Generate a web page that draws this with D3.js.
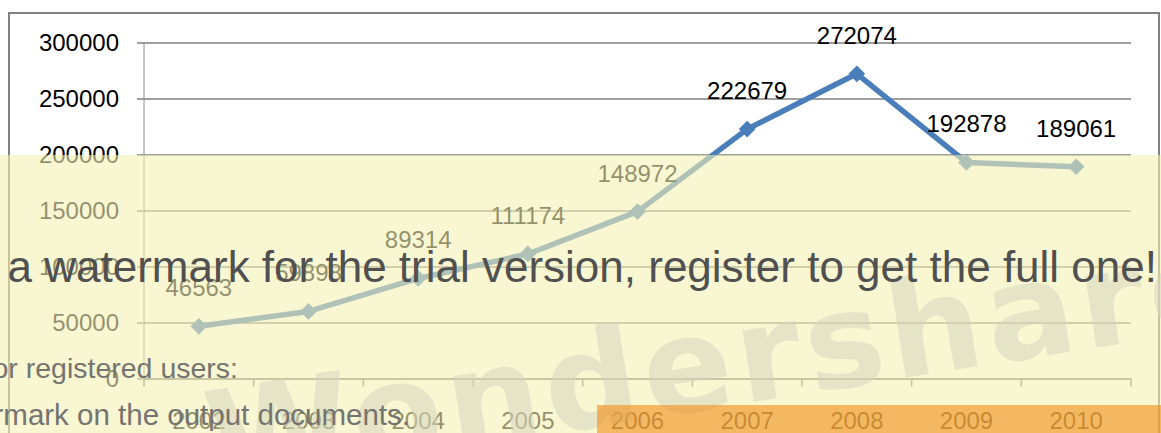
<!DOCTYPE html>
<html>
<head>
<meta charset="utf-8">
<script src="https://d3js.org/d3.v7.min.js"></script>
<style>
  body { margin: 0; background: #fff; }
  svg { display: block; }
</style>
</head>
<body>
<script>
var w = 1161;
var h = 433;

var years = ["2002", "2003", "2004", "2005", "2006", "2007", "2008", "2009", "2010"];
var values = [46563, 59898, 89314, 111174, 148972, 222679, 272074, 192878, 189061];
var yTicks = [0, 50000, 100000, 150000, 200000, 250000, 300000];

var plotLeft = 144, plotRight = 1131, plotTop = 42.5, plotBottom = 378.5;
var labelFont = "'Liberation Sans', Arial, sans-serif";

var xScale = d3.scaleBand()
  .domain(years)
  .range([plotLeft, plotRight]);

var yScale = d3.scaleLinear()
  .domain([0, 300000])
  .range([plotBottom, plotTop]);

var svg = d3.select("body")
  .append("svg")
  .attr("width", w)
  .attr("height", h);

// outer chart border
svg.append("rect")
  .attr("x", 9).attr("y", 13)
  .attr("width", 1150).attr("height", 440)
  .attr("fill", "none")
  .attr("stroke", "#808080")
  .attr("stroke-width", 2);

// gridlines + y labels
var yAxis = d3.axisLeft(yScale)
  .tickValues(yTicks)
  .tickSize(-(plotRight - plotLeft) - 7)
  .tickPadding(18)
  .tickFormat(d3.format("d"));

var gy = svg.append("g")
  .attr("transform", "translate(" + (plotLeft - 7) + ",0)")
  .call(yAxis);
gy.select(".domain").remove();
gy.selectAll(".tick line")
  .attr("stroke", "#7f7f7f")
  .attr("stroke-width", 1.5);
gy.selectAll(".tick text")
  .attr("fill", "#000")
  .style("font-family", labelFont)
  .style("font-size", "24px");

// y axis line
svg.append("line")
  .attr("x1", plotLeft).attr("x2", plotLeft)
  .attr("y1", plotTop).attr("y2", plotBottom)
  .attr("stroke", "#8a8a8a")
  .attr("stroke-width", 1);

// x axis
var xAxis = d3.axisBottom(xScale)
  .tickSize(0)
  .tickPadding(33);

var gx = svg.append("g")
  .attr("transform", "translate(0," + plotBottom + ")")
  .call(xAxis);
gx.select(".domain")
  .attr("stroke", "#7f7f7f")
  .attr("stroke-width", 1.5);
gx.selectAll(".tick text")
  .attr("fill", "#000")
  .style("font-family", labelFont)
  .style("font-size", "24px");

// category boundary tick marks
svg.append("g")
  .selectAll("line")
  .data(years.concat(["end"]))
  .enter()
  .append("line")
  .attr("x1", function(d, i) { return plotLeft + i * xScale.step(); })
  .attr("x2", function(d, i) { return plotLeft + i * xScale.step(); })
  .attr("y1", plotBottom)
  .attr("y2", plotBottom + 8)
  .attr("stroke", "#7f7f7f")
  .attr("stroke-width", 1.5);

function px(d, i) { return xScale(years[i]) + xScale.bandwidth() / 2; }

var line = d3.line()
  .x(function(d, i) { return px(d, i); })
  .y(function(d) { return yScale(d); });

svg.append("path")
  .datum(values)
  .attr("d", line)
  .attr("fill", "none")
  .attr("stroke", "#4a7ebb")
  .attr("stroke-width", 5.5)
  .attr("stroke-linejoin", "round");

svg.selectAll("path.marker")
  .data(values)
  .enter()
  .append("path")
  .attr("class", "marker")
  .attr("d", d3.symbol().type(d3.symbolSquare).size(140))
  .attr("transform", function(d, i) { return "translate(" + px(d, i) + "," + yScale(d) + ") rotate(45)"; })
  .attr("fill", "#4a7ebb");

svg.selectAll("text.lbl")
  .data(values)
  .enter()
  .append("text")
  .attr("class", "lbl")
  .attr("x", function(d, i) { return px(d, i); })
  .attr("y", function(d) { return yScale(d) - 30; })
  .attr("text-anchor", "middle")
  .style("font-family", labelFont)
  .style("font-size", "24px")
  .text(function(d) { return d; });

// trial watermark overlay
svg.append("rect")
  .attr("x", 0).attr("y", 155)
  .attr("width", w).attr("height", h - 155)
  .attr("fill", "rgb(245,240,180)")
  .attr("fill-opacity", 0.6);

svg.append("text")
  .attr("transform", "translate(215,487) rotate(-9)")
  .style("font-family", "'DejaVu Sans', sans-serif")
  .style("font-weight", "bold")
  .style("font-size", "132px")
  .style("letter-spacing", "5px")
  .attr("fill", "#d6d6bc")
  .attr("fill-opacity", 0.55)
  .text("Wondershare");

svg.append("rect")
  .attr("x", 597).attr("y", 405)
  .attr("width", w - 597).attr("height", h - 405)
  .attr("fill", "rgb(242,133,6)")
  .attr("fill-opacity", 0.55);

svg.append("text")
  .attr("x", 1157).attr("y", 282)
  .attr("text-anchor", "end")
  .style("font-family", "'Liberation Sans', Arial, sans-serif")
  .style("font-size", "44px")
  .attr("fill", "#505050")
  .text("This is a watermark for the trial version, register to get the full one!");

svg.append("text")
  .attr("x", 238).attr("y", 378)
  .attr("text-anchor", "end")
  .style("font-family", "'Liberation Sans', Arial, sans-serif")
  .style("font-size", "28.5px")
  .attr("fill", "#747470")
  .text("For registered users:");

svg.append("text")
  .attr("x", 410).attr("y", 425)
  .attr("text-anchor", "end")
  .style("font-family", "'Liberation Sans', Arial, sans-serif")
  .style("font-size", "29.5px")
  .attr("fill", "#747470")
  .text("No watermark on the output documents.");
</script>
</body>
</html>
